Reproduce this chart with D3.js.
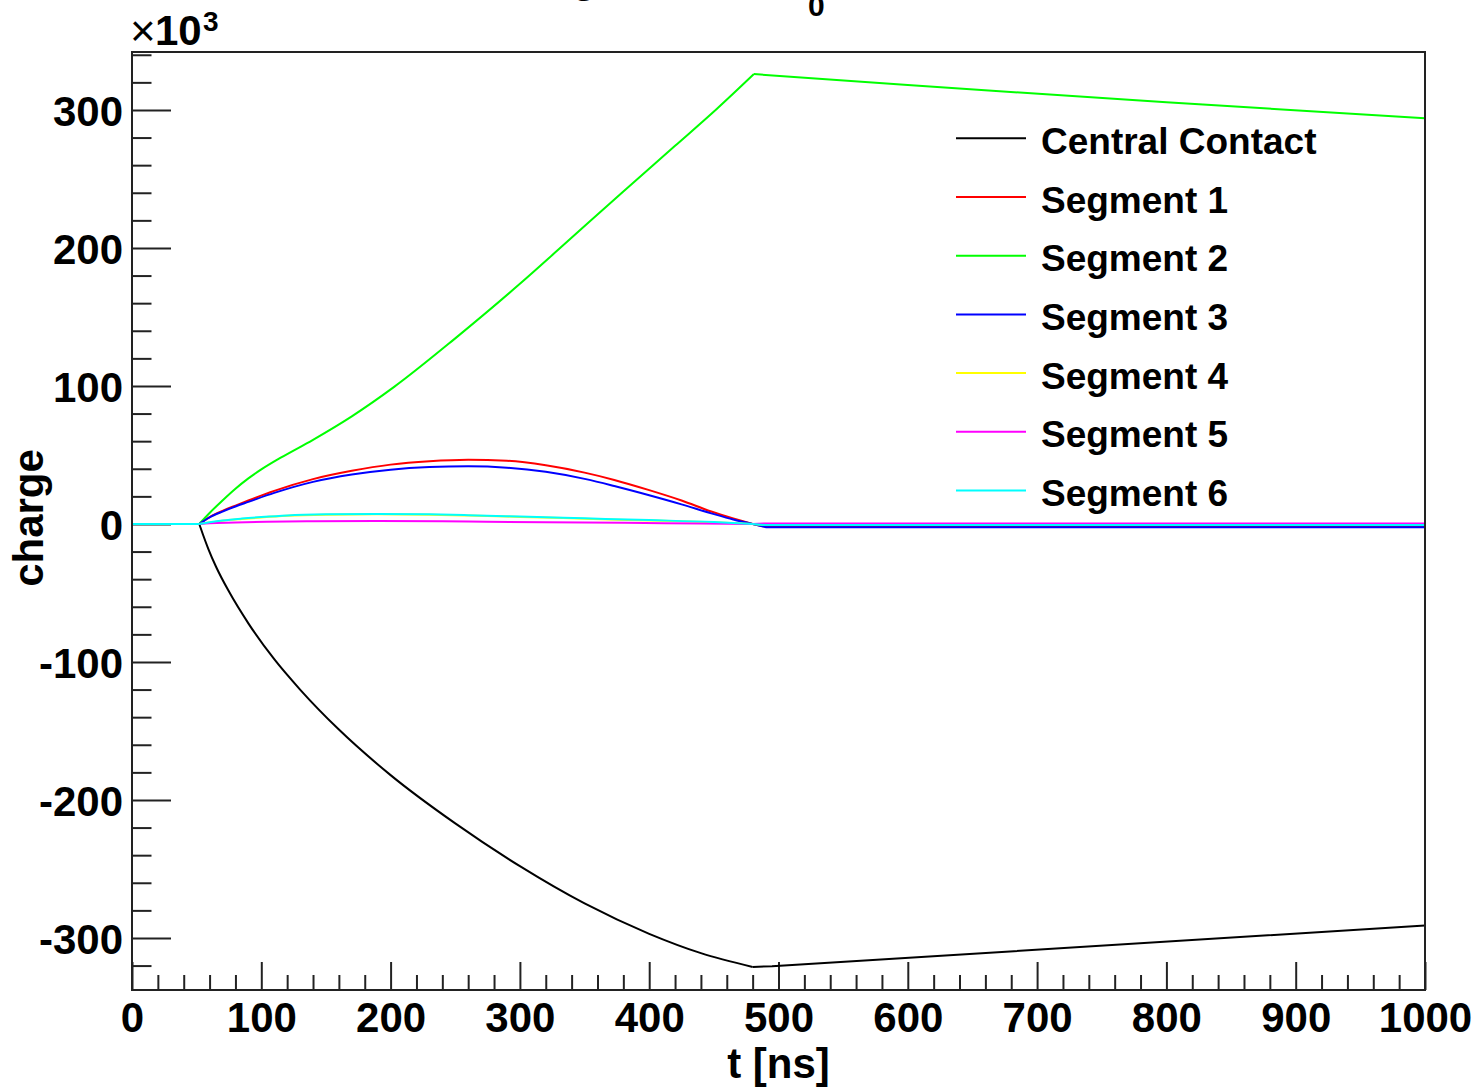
<!DOCTYPE html>
<html>
<head>
<meta charset="utf-8">
<script src="https://cdn.jsdelivr.net/npm/d3@7"></script>
<style>
  body { margin: 0; background: #fff; }
  svg { display: block; }
  text { font-family: "Liberation Sans", Arial, Helvetica, sans-serif; }
</style>
</head>
<body>
<svg id="chart" width="1475" height="1092"></svg>
<script>
// Induced charge per electrode, [t in ns, charge in units of 10^3]
const centralContact = [[0,0],[52,0],[55,-8],[59,-18],[65,-31],[75,-49],[90,-72],[110,-98],[130,-120],[160,-149],[200,-182],[250,-217],[300,-248],[350,-275],[400,-297],[440,-311],[480,-321],[495,-320.5],[1000,-291]];
const segment1 = [[0,0],[52,0],[60,5],[70,9.5],[80,13.3],[90,17],[110,24],[140,32.5],[170,38.5],[200,43],[230,45.5],[260,46.6],[290,45.8],[320,42.5],[350,37.2],[373,31.9],[400,24.5],[425,17],[448,9],[465,4],[480,0],[490,-2],[1000,-2]];
const segment2 = [[0,0],[52,0],[60,8],[70,17],[80,25.5],[90,33],[100,39.5],[115,48],[140,61],[170,78],[203,99.5],[250,134.5],[300,174],[330,199],[380,241],[420,274],[452,300.5],[481,326],[600,318],[800,305.5],[1000,294]];
const segment3 = [[0,0],[52,0],[60,4.8],[70,9],[80,12.7],[90,16],[110,22.5],[140,30.5],[170,35.8],[200,39.3],[230,41.2],[260,41.8],[290,40.8],[320,37.8],[351,32.5],[373,27.5],[400,20.8],[425,14.2],[448,7.7],[465,3.2],[480,0],[490,-2.3],[1000,-2.3]];
const segment4 = [[0,0],[52,0],[60,1.0],[70,2.3],[85,3.6],[100,4.7],[120,5.9],[150,6.7],[190,7.0],[230,6.7],[260,6.1],[300,5.1],[350,3.8],[400,2.5],[450,1.2],[480,0],[490,-0.8],[1000,-0.8]];
const segment5 = [[0,0],[52,0],[60,0.5],[80,1.0],[104,1.6],[140,2.0],[190,2.2],[240,2.0],[274,1.6],[320,1.2],[381,0.85],[440,0.3],[480,0],[490,0.4],[1000,0.4]];
const segment6 = [[0,0],[52,0],[60,1.2],[70,2.5],[85,3.9],[100,5],[120,6.2],[150,7],[190,7.3],[230,7.0],[260,6.4],[300,5.4],[350,4.1],[400,2.8],[450,1.4],[480,0],[490,-0.8],[1000,-0.8]];

const seriesLabels = ["Central Contact", "Segment 1", "Segment 2", "Segment 3", "Segment 4", "Segment 5", "Segment 6"];
const xMajorTicks = [0, 100, 200, 300, 400, 500, 600, 700, 800, 900, 1000];
const yMajorTicks = [-300, -200, -100, 0, 100, 200, 300];
const xDomain = [0, 1000];
const yDomain = [-337.7, 342];

const seriesData = [centralContact, segment1, segment2, segment3, segment4, segment5, segment6];
const seriesColors = ["#000000", "#ff0000", "#00ff00", "#0000ff", "#ffff00", "#ff00ff", "#00ffff"];

const frame = { left: 132, right: 1425, top: 52, bottom: 990 };
const svg = d3.select("#chart");
svg.append("rect").attr("width", 1475).attr("height", 1092).attr("fill", "#fff");

const x = d3.scaleLinear().domain(xDomain).range([frame.left, frame.right]);
const y = d3.scaleLinear().domain(yDomain).range([frame.bottom, frame.top]);
const plainNumber = d => (d < 0 ? "-" + Math.abs(d) : String(d));

// Title (sits at the very top edge of the canvas)
const title = svg.append("text")
  .attr("x", 476).attr("y", -8)
  .attr("font-size", 42).attr("font-weight", "bold").attr("fill", "#000");
title.append("tspan").text("Charge at time t");
title.append("tspan").attr("x", 808).attr("y", 16).attr("font-size", 30).text("0");

// Axes (ticks first, curves are drawn over them)
const axisColor = "#222";
const xMinor = d3.range(0, 1001, 20).filter(v => !xMajorTicks.includes(v));
const yMinor = d3.range(-320, 341, 20).filter(v => !yMajorTicks.includes(v));

svg.append("g").attr("transform", `translate(0,${frame.bottom})`)
  .call(d3.axisBottom(x).tickValues(xMajorTicks).tickSizeInner(-28).tickSizeOuter(0).tickPadding(12).tickFormat(plainNumber));
svg.append("g").attr("transform", `translate(0,${frame.bottom})`)
  .call(d3.axisBottom(x).tickValues(xMinor).tickSizeInner(-15).tickSizeOuter(0).tickFormat(""));

const yAxisG = svg.append("g").attr("transform", `translate(${frame.left},0)`)
  .call(d3.axisLeft(y).tickValues(yMajorTicks).tickSizeInner(-39).tickSizeOuter(0).tickPadding(9).tickFormat(plainNumber));
svg.append("g").attr("transform", `translate(${frame.left},0)`)
  .call(d3.axisLeft(y).tickValues(yMinor).tickSizeInner(-19.5).tickSizeOuter(0).tickFormat(""));

svg.selectAll(".domain").remove();
svg.selectAll(".tick line").attr("stroke", axisColor).attr("stroke-width", 2);
svg.selectAll(".tick text")
  .attr("font-family", "\"Liberation Sans\", Arial, Helvetica, sans-serif")
  .attr("font-size", 42).attr("font-weight", "bold").attr("fill", "#000");
yAxisG.selectAll(".tick text").attr("dy", "0.37em");

// Curves, clipped to the frame
svg.append("clipPath").attr("id", "plotClip")
  .append("rect")
  .attr("x", frame.left).attr("y", frame.top)
  .attr("width", frame.right - frame.left).attr("height", frame.bottom - frame.top);

const curves = svg.append("g").attr("clip-path", "url(#plotClip)");
const smoothLine = d3.line().x(d => x(d[0])).y(d => y(d[1])).curve(d3.curveMonotoneX);
const straightLine = d3.line().x(d => x(d[0])).y(d => y(d[1]));

seriesData.forEach((pts, i) => {
  // flat baseline before the drift starts, smooth drift, straight decay afterwards
  const startIdx = pts.findIndex(p => p[0] >= 52);
  let kinkIdx = 0;
  pts.forEach((p, j) => { if (p[0] <= 481) kinkIdx = j; });
  const head = pts.slice(0, startIdx + 1);
  const drift = pts.slice(startIdx, kinkIdx + 1);
  const tail = pts.slice(kinkIdx);
  const g = curves.append("g")
    .attr("fill", "none").attr("stroke", seriesColors[i])
    .attr("stroke-width", 2).attr("stroke-linejoin", "round");
  g.append("path").attr("d", straightLine(head));
  g.append("path").attr("d", smoothLine(drift));
  g.append("path").attr("d", straightLine(tail));
});

// Frame
svg.append("rect")
  .attr("x", frame.left).attr("y", frame.top)
  .attr("width", frame.right - frame.left).attr("height", frame.bottom - frame.top)
  .attr("fill", "none").attr("stroke", axisColor).attr("stroke-width", 2);

// Exponent marker on the y axis
const expo = svg.append("g");
expo.append("text").attr("x", 130).attr("y", 46).attr("font-size", 44).attr("fill", "#000").text("\u00d7");
expo.append("text").attr("x", 155).attr("y", 45).attr("font-size", 42).attr("font-weight", "bold").attr("fill", "#000").text("10");
expo.append("text").attr("x", 203).attr("y", 31).attr("font-size", 28).attr("font-weight", "bold").attr("fill", "#000").text("3");

// Axis titles
svg.append("text")
  .attr("x", (frame.left + frame.right) / 2).attr("y", 1078)
  .attr("text-anchor", "middle").attr("font-size", 42).attr("font-weight", "bold").attr("fill", "#000")
  .text("t [ns]");
svg.append("text")
  .attr("transform", `translate(43,${(frame.top + frame.bottom) / 2 - 3}) rotate(-90)`)
  .attr("text-anchor", "middle").attr("font-size", 42).attr("font-weight", "bold").attr("fill", "#000")
  .text("charge");

// Legend
const legend = svg.append("g");
seriesLabels.forEach((label, i) => {
  const ly = 138.3 + i * 58.7;
  legend.append("line")
    .attr("x1", 956).attr("x2", 1026).attr("y1", ly).attr("y2", ly)
    .attr("stroke", seriesColors[i]).attr("stroke-width", 2);
  legend.append("text")
    .attr("x", 1041).attr("y", ly + 15.5)
    .attr("font-size", 37).attr("font-weight", "bold").attr("fill", "#000")
    .text(label);
});
</script>
</body>
</html>
